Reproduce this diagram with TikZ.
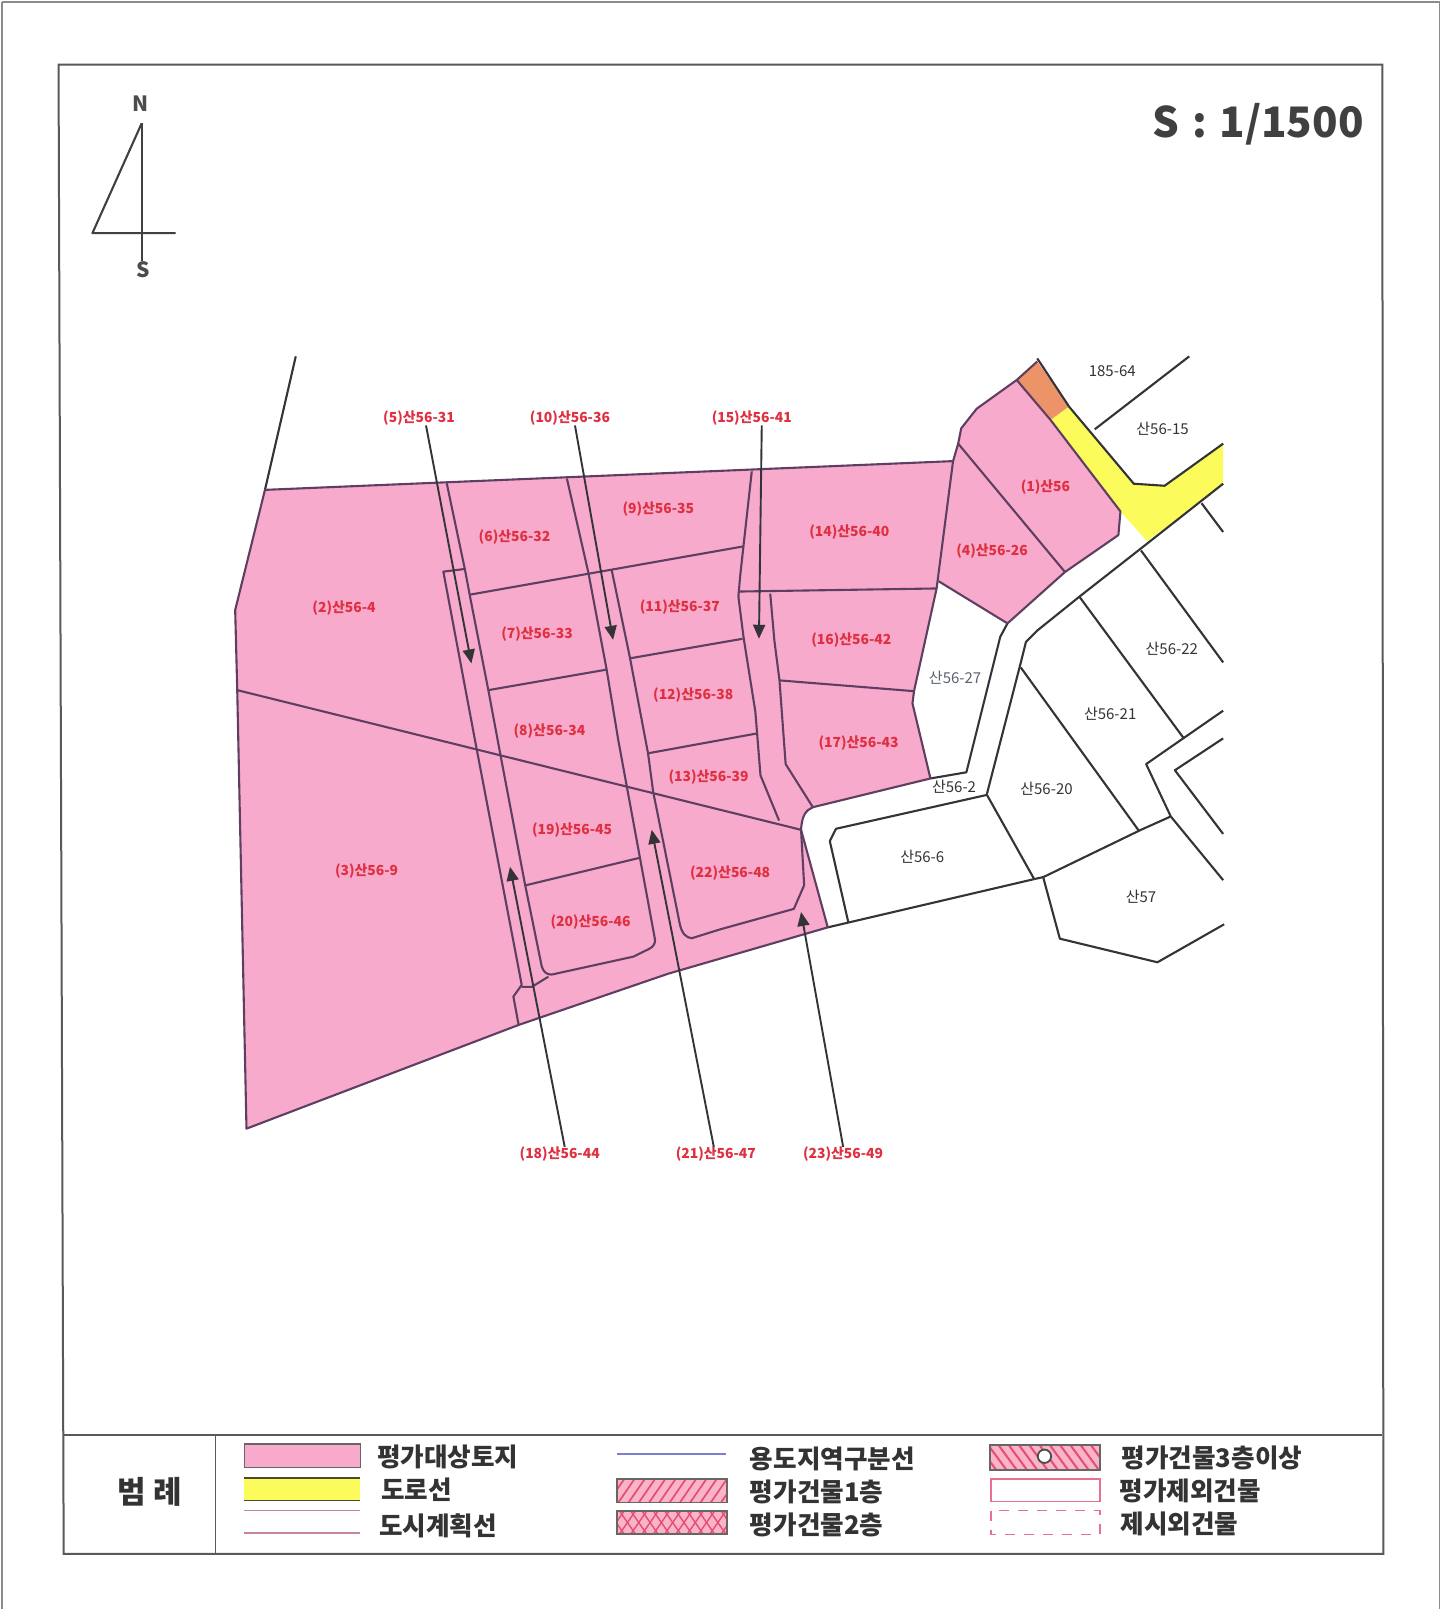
\documentclass[tikz,border=0pt]{standalone}
\usepackage{fontspec}
\setmainfont{Noto Sans CJK KR}
\usetikzlibrary{arrows.meta}
\definecolor{parcel}{HTML}{F7AACC}
\definecolor{plum}{HTML}{5E3F62}
\definecolor{ink}{HTML}{333338}
\definecolor{redlab}{HTML}{DE3040}
\definecolor{roady}{HTML}{FBFB5C}
\definecolor{orng}{HTML}{EC9468}
\definecolor{hatchbg}{HTML}{F9B4C8}
\definecolor{hatchln}{HTML}{E64C74}
\definecolor{slatetxt}{HTML}{5A6072}
\tikzset{
  pl/.style={draw=plum,line width=2.1pt,line join=round},
  dk/.style={draw=ink,line width=2.1pt,line join=round},
  frameln/.style={draw=black!65,line width=2pt},
  ptr/.style={draw=ink,line width=1.9pt,-{Triangle[length=14pt,width=12pt]}},
  redtxt/.style={text=redlab,font=\fontsize{13.9}{15}\selectfont\bfseries,inner sep=0pt},
  blktxt/.style={text=ink,font=\fontsize{15}{15}\selectfont,inner sep=0pt},
  legtxt/.style={text=black!80,font=\fontsize{25.6}{26}\selectfont\bfseries,inner sep=0pt,anchor=west},
  legbox/.style={draw=black!60,line width=1.8pt},
}
\begin{document}
\begin{tikzpicture}[x=1.027pt,y=-1.027pt]
\useasboundingbox (0,0) rectangle (1411.9,1567.7);
\fill[white] (0,0) rectangle (1411.9,1567.7);
% sheet and frame
\draw[draw=black!45,line width=1.3pt] (2,2)--(1402,2)--(1402,1567);
\draw[draw=black!45,line width=1.3pt] (2,2)--(2,1567);
\draw[frameln] (57,63)--(1346,63)--(1347,1513)--(62,1513)--cycle;
\draw[frameln] (62,1397)--(1346,1397);
\draw[draw=black!65,line width=1.5pt] (210,1397)--(210,1513);
% north arrow
\node[inner sep=0pt,text=black!70,font=\fontsize{21}{21}\selectfont\bfseries] (nn) at (137,101) {N};
\node[inner sep=0pt,text=black!70,font=\fontsize{21}{21}\selectfont\bfseries] (ss) at (139,263) {S};
\draw[draw=black!75,line width=2.1pt,line join=round] (138,120)--(138,254);
\draw[draw=black!75,line width=2.1pt,line join=round] (138,120)--(90,227)--(171,227);
\node[inner sep=0pt,anchor=east,text=black!75,font=\fontsize{42}{44}\selectfont\bfseries] (scale) at (1328,121) {S\hspace{0.3em}:\hspace{0.3em}1/1500};
% filled areas
\fill[parcel] (258,477)--(928,449)--(912,573)--(890,673)--(888.5,685)--(906,758)--(791.5,786)--(781,796)--(780,808)--(806,903)--(651,948)--(505,998)--(240,1099)--(231,672)--(229,594)--cycle;
\fill[parcel] (933,432)--(936,417)--(951,398)--(990,370)--(1023,409)--(1091,498)--(1089,521)--(1037,557)--(981,607)--(914,566)--(928,449)--cycle;
\fill[orng] (990,370)--(1010,352)--(1041,396)--(1023,409)--cycle;
\fill[roady] (1023,409)--(1041,396)--(1104,471)--(1134,473)--(1191,432)--(1191,471)--(1117,527)--(1091,498)--cycle;
% dark outside lines
\draw[dk] (288,347)--(258,477);
\draw[dk] (1010,349)--(1041,396)--(1104,471)--(1134,473)--(1191,432);
\draw[dk] (1066,418)--(1158,347);
\draw[dk] (1191,471)--(1111,534)--(1051,581)--(1010,614)--(999,625)--(994,645)--(961,773);
\draw[dk] (1170,490)--(1191,518);
\draw[dk] (1111,536)--(1191,645);
\draw[dk] (1051,581)--(1152,718);
\draw[dk] (994,650)--(1109,809);
\draw[dk] (1191,692)--(1116,744)--(1140,795)--(1191,857);
\draw[dk] (1191,719)--(1144,750)--(1191,812);
\draw[dk] (1140,795)--(1111,808)--(1016,854)--(1007,856);
\draw[dk] (1016,855)--(1032,914)--(1127,937)--(1192,900);
\draw[dk] (806,903)--(1007,856);
\draw[dk] (826,898)--(808,819)--(814,807)--(961,774)--(1007,856);
\draw[dk] (981,607)--(974,620)--(941,752)--(906,758);
% parcel outlines
\draw[pl] (258,477)--(928,449)--(912,573)--(890,673)--(888.5,685)--(906,758)--(791.5,786) .. controls (785,789) and (781,793) .. (780,808)--(806,903)--(651,948)--(505,998)--(240,1099)--(231,672)--(229,594)--cycle;
\draw[pl] (928,449)--(933,432)--(936,417)--(951,398)--(990,370)--(1010,352);
\draw[pl] (990,370)--(1023,409)--(1091,498)--(1089,521)--(1037,557)--(981,607)--(914,566);
\draw[pl] (933,432)--(1037,557);
\draw[pl] (231,672)--(780,808);
% road A and block
\draw[pl] (435,470.6)--(452.8,555)--(457.7,581)--(475.5,672)--(487,733.5)--(511,860)--(527.5,941) .. controls (529,946) and (532,949) .. (537,949)--(616.7,931.5)--(632,924) .. controls (636,922) and (638,919) .. (637.8,915)--(602,720.5)--(590.7,652)--(573,558)--(552,466);
\draw[pl] (452.8,554)--(431.7,556.6)--(464,728.6)--(508,959)--(499.9,970.4)--(505,998);
\draw[pl] (508,961)--(517.7,961)--(534,951);
% road B
\draw[pl] (595.6,555)--(613.5,641)--(631,733.5)--(636,771)--(662,900) .. controls (664,909) and (668,913) .. (673.5,913.6)--(701,905)--(773,885)--(783,862)--(780,808);
% road C
\draw[pl] (732,459)--(720.7,561)--(719,581)--(724,620.5)--(735.5,693)--(740.5,755)--(758.6,799);
\draw[pl] (750,578)--(754,623.5)--(759,662.5)--(765,744)--(791.5,786);
% cross lines
\draw[pl] (719,576)--(912,573);
\draw[pl] (457.7,579)--(724,532);
\draw[pl] (475.5,672)--(590.7,652);
\draw[pl] (613.5,641)--(723,622);
\draw[pl] (631,733.5)--(738,714);
\draw[pl] (512,862)--(624,835);
\draw[pl] (759,662.5)--(890,673);
% red labels
\foreach \n/\p/\t in {
 l5/{(408,407)}/(5)산56-31, l10/{(555,407)}/(10)산56-36, l15/{(732,407)}/(15)산56-41,
 l6/{(501,523)}/(6)산56-32, l9/{(641,496)}/(9)산56-35, l14/{(827,518)}/(14)산56-40,
 l1/{(1018,474)}/(1)산56, l4/{(966,537)}/(4)산56-26, l2/{(335,592)}/(2)산56-4,
 l7/{(523,617)}/(7)산56-33, l11/{(662,591)}/(11)산56-37, l16/{(829,623)}/(16)산56-42,
 l12/{(675,677)}/(12)산56-38, l8/{(535,712)}/(8)산56-34, l17/{(836,724)}/(17)산56-43,
 l13/{(690,757)}/(13)산56-39, l19/{(557,808)}/(19)산56-45, l22/{(711,850)}/(22)산56-48,
 l3/{(357,848)}/(3)산56-9, l20/{(575,898)}/(20)산56-46, l18/{(545,1124)}/(18)산56-44,
 l21/{(697,1124)}/(21)산56-47, l23/{(821,1124)}/(23)산56-49}
 {\node[redtxt] (\n) at \p {\t};}
% black labels
\foreach \n/\p/\t in {
 b1/{(1083,361)}/185-64, b2/{(1132,417)}/산56-15, b3/{(1141,632)}/산56-22,
 b5/{(1081,695)}/산56-21, b6/{(929,766)}/산56-2, b7/{(1019,768)}/산56-20,
 b8/{(898,834)}/산56-6, b9/{(1111,873)}/산57}
 {\node[blktxt] (\n) at \p {\t};}
\node[blktxt,text=slatetxt] (b4) at (930,660) {산56-27};
% pointers
\coordinate (t5) at (459,646);
\coordinate (t10) at (597,623);
\coordinate (t15) at (739,622);
\coordinate (t18) at (496.6,844);
\coordinate (t21) at (634.6,808);
\coordinate (t23) at (780,888);
\draw[ptr] ([xshift=7pt]l5.south) -- (t5);
\draw[ptr] ([xshift=5pt]l10.south) -- (t10);
\draw[ptr] ([xshift=10pt]l15.south) -- (t15);
\draw[ptr] ([xshift=5pt]l18.north) -- (t18);
\draw[ptr] ([xshift=-2pt]l21.north) -- (t21);
\draw[ptr] (l23.north) -- (t23);
% legend
\node[inner sep=0pt,text=black!80,font=\fontsize{31}{31}\selectfont\bfseries] (lt) at (146,1453) {범 례};
\draw[legbox,fill=parcel] (238,1406) rectangle (351,1429);
\fill[roady] (238,1439) rectangle (351,1461);
\draw[draw=black!60!olive,line width=1.6pt] (238,1439)--(351,1439);
\draw[draw=black!60!olive,line width=1.6pt] (238,1461)--(351,1461);
\draw[draw=hatchln!70!black!60,line width=1.5pt] (238,1471)--(351,1471);
\draw[draw=hatchln!70!black!60,line width=1.5pt] (238,1492.5)--(351,1492.5);
\node[legtxt] (k1) at (367,1419) {평가대상토지};
\node[legtxt] (k2) at (371,1451) {도로선};
\node[legtxt] (k3) at (369,1486) {도시계획선};
\draw[draw=blue!45!gray!70,line width=1.7pt] (601,1416)--(707,1416);
% hatched boxes
\begin{scope}
\clip (601,1440) rectangle (708,1463);
\fill[hatchbg] (601,1440) rectangle (708,1463);
\foreach \i in {0,...,13}{\draw[draw=hatchln,line width=1.7pt] (590+\i*10,1466)--(610+\i*10,1437);}
\end{scope}
\draw[legbox] (601,1440) rectangle (708,1463);
\begin{scope}
\clip (601,1471) rectangle (708,1494);
\fill[hatchbg] (601,1471) rectangle (708,1494);
\foreach \i in {0,...,12}{
\draw[draw=hatchln,line width=1.4pt] (590+\i*11,1497)--(610+\i*11,1468);
\draw[draw=hatchln,line width=1.4pt] (590+\i*11,1468)--(610+\i*11,1497);}
\end{scope}
\draw[legbox] (601,1471) rectangle (708,1494);
\begin{scope}
\clip (964,1407) rectangle (1071,1431);
\fill[hatchbg] (964,1407) rectangle (1071,1431);
\foreach \i in {0,...,13}{\draw[draw=hatchln,line width=2pt] (950+\i*10,1404)--(972+\i*10,1434);}
\end{scope}
\draw[legbox] (964,1407) rectangle (1071,1431);
\draw[draw=black!70,line width=1.8pt,fill=white] (1017,1418) circle (6.5);
\draw[draw=hatchln!80,line width=1.6pt] (965,1440) rectangle (1071,1462);
\draw[draw=hatchln!80,line width=1.4pt,dash pattern=on 10pt off 9pt] (965,1471) rectangle (1071,1494);
\node[legtxt] (k4) at (730,1421) {용도지역구분선};
\node[legtxt] (k5) at (730,1453) {평가건물1층};
\node[legtxt] (k6) at (730,1485) {평가건물2층};
\node[legtxt] (k7) at (1092,1420) {평가건물3층이상};
\node[legtxt] (k8) at (1090,1452) {평가제외건물};
\node[legtxt] (k9) at (1091,1484) {제시외건물};
\end{tikzpicture}
\end{document}
